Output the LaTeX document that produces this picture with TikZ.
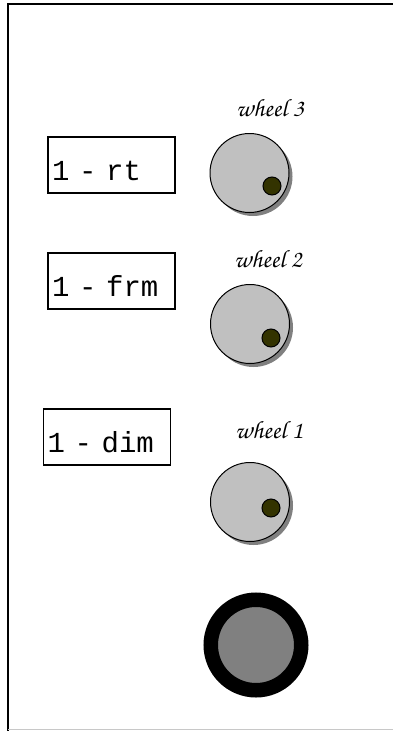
\documentclass[tikz,border=0pt]{standalone}
\usepackage[T1]{fontenc}
\usepackage{fontspec}
\usepackage{tikz}
\usetikzlibrary{shadows}
\setmonofont{Liberation Mono}
\definecolor{PanelKnob}{RGB}{192,192,192}
\definecolor{PanelShadow}{RGB}{128,128,128}
\definecolor{PanelDot}{RGB}{51,51,0}
\definecolor{PanelRule}{RGB}{200,200,200}
\newcommand{\wheelfont}{\fontencoding{T1}\fontfamily{pzc}\fontseries{mb}\fontshape{it}\selectfont}

\begin{document}
\begin{tikzpicture}[x=1pt,y=-1pt,
  readout/.style={draw,line width=1.2pt,inner xsep=4pt,inner ysep=0pt,
    text width=119pt,align=left,text height=43pt,text depth=13pt,
    font=\ttfamily\fontsize{29}{33}\selectfont},
  knob/.style={circle,draw,line width=1pt,fill=PanelKnob,minimum size=79pt,inner sep=0pt,
    drop shadow={shadow xshift=3.5pt,shadow yshift=-3.5pt,fill=PanelShadow,opacity=1}},
  knobdot/.style={circle,draw,line width=1pt,fill=PanelDot,minimum size=18pt,inner sep=0pt},
  wheeltag/.style={font=\wheelfont\fontsize{25}{29}\selectfont}]
  \useasboundingbox (0,0) rectangle (393,731);
  % panel frame
  \draw[line width=1.5pt] (393,4) -- (8,4) -- (8,731);
  \draw[PanelRule,line width=1pt] (8,729.5) -- (393,729.5);
  % readouts
  \node[readout] (rt) at (111.5,165) {1 - rt};
  \node[readout] (frm) at (111.5,281) {1 - frm};
  \node[readout] (dim) at (107,437) {1 - dim};
  % wheels
  \node[wheeltag] (tag3) at (270,108) {wheel 3};
  \node[knob] (wheel3) at (249.5,173) {};
  \node[knobdot] (dot3) at (272,186) {};
  \node[wheeltag] (tag2) at (268,259) {wheel 2};
  \node[knob] (wheel2) at (250,324) {};
  \node[knobdot] (dot2) at (271,338) {};
  \node[wheeltag] (tag1) at (269,430) {wheel 1};
  \node[knob] (wheel1) at (250,502) {};
  \node[knobdot] (dot1) at (271,508) {};
  % push button
  \node[circle,draw=black,line width=14.5pt,fill=PanelShadow,minimum size=90.5pt,inner sep=0pt]
    (button) at (256,645) {};
\end{tikzpicture}
\end{document}
